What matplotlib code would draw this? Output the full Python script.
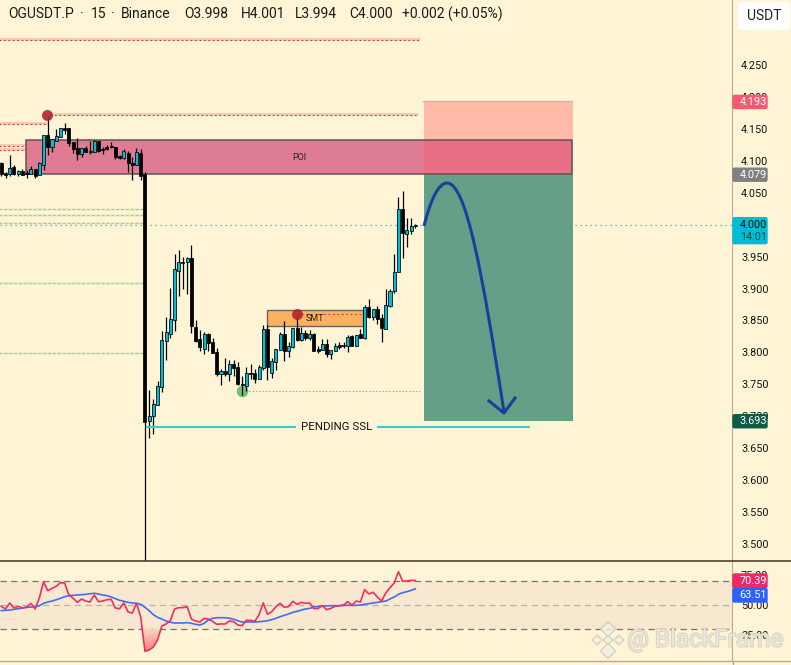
#!/usr/bin/env python3
# OGUSDT.P 15m chart with position tool and RSI pane
import matplotlib
matplotlib.use("Agg")
import matplotlib.pyplot as plt
import matplotlib.patheffects as pe
import numpy as np
from matplotlib.colors import LinearSegmentedColormap
from matplotlib.patches import Rectangle, FancyBboxPatch, PathPatch
from matplotlib.path import Path

plt.rcParams['font.family'] = ['Roboto', 'DejaVu Sans']

opens = [4.097,4.081,4.079,4.090,4.079,4.084,4.081,4.079,4.087,4.078,
         4.093,4.140,4.122,4.131,4.137,4.151,4.151,4.129,4.120,4.111,
         4.120,4.115,4.114,4.131,4.118,4.122,4.123,4.122,4.108,4.104,
         4.112,4.097,4.093,4.112,4.079,3.693,3.700,3.718,3.746,3.818,
         3.829,3.851,3.927,3.940,3.942,3.948,3.840,3.821,3.805,3.829,
         3.816,3.801,3.766,3.771,3.766,3.782,3.777,3.751,3.747,3.768,
         3.768,3.758,3.776,3.837,3.768,3.785,3.804,3.829,3.802,3.808,
         3.838,3.819,3.830,3.823,3.829,3.805,3.804,3.813,3.797,3.802,
         3.812,3.812,3.810,3.826,3.810,3.829,3.823,3.871,3.855,3.868,
         3.854,3.837,3.873,3.896,3.926,4.025,3.985,3.990,3.998]
highs = [4.098,4.083,4.109,4.093,4.086,4.087,4.086,4.092,4.087,4.098,
         4.140,4.170,4.134,4.150,4.151,4.159,4.151,4.129,4.136,4.120,
         4.123,4.131,4.133,4.131,4.122,4.125,4.129,4.122,4.109,4.118,
         4.115,4.106,4.120,4.118,4.082,3.741,3.727,3.755,3.833,3.855,
         3.901,3.954,3.960,3.949,3.949,3.968,3.851,3.835,3.832,3.830,
         3.823,3.807,3.774,3.791,3.788,3.788,3.785,3.763,3.777,3.782,
         3.774,3.780,3.843,3.843,3.791,3.805,3.832,3.849,3.816,3.838,
         3.859,3.840,3.835,3.835,3.830,3.810,3.821,3.821,3.804,3.815,
         3.816,3.816,3.827,3.827,3.827,3.837,3.874,3.884,3.868,3.873,
         3.860,3.899,3.899,3.954,4.043,4.053,4.010,4.010,4.001]
lows = [4.076,4.073,4.076,4.078,4.076,4.078,4.073,4.079,4.073,4.078,
        4.086,4.109,4.114,4.131,4.137,4.142,4.123,4.112,4.101,4.106,
        4.114,4.111,4.114,4.114,4.111,4.117,4.120,4.103,4.103,4.103,
        4.082,4.070,4.093,4.070,3.460,3.666,3.672,3.718,3.738,3.788,
        3.823,3.833,3.888,3.899,3.891,3.830,3.816,3.802,3.797,3.802,
        3.799,3.763,3.749,3.763,3.755,3.763,3.749,3.733,3.740,3.758,
        3.752,3.758,3.772,3.757,3.760,3.772,3.804,3.787,3.793,3.807,
        3.818,3.818,3.819,3.819,3.802,3.799,3.804,3.793,3.790,3.802,
        3.805,3.807,3.801,3.810,3.810,3.823,3.821,3.854,3.851,3.844,
        3.816,3.837,3.871,3.893,3.926,3.948,3.965,3.985,3.994]
closes = [4.079,4.078,4.089,4.079,4.084,4.078,4.079,4.087,4.076,4.097,
          4.140,4.122,4.134,4.139,4.151,4.148,4.128,4.118,4.111,4.120,
          4.114,4.114,4.131,4.115,4.117,4.118,4.122,4.106,4.104,4.115,
          4.097,4.093,4.114,4.076,3.691,3.700,3.719,3.747,3.819,3.832,
          3.852,3.931,3.942,3.942,3.948,3.841,3.818,3.808,3.829,3.815,
          3.799,3.766,3.771,3.766,3.782,3.776,3.751,3.749,3.768,3.766,
          3.758,3.777,3.837,3.777,3.787,3.805,3.829,3.802,3.810,3.838,
          3.819,3.830,3.823,3.829,3.802,3.802,3.813,3.797,3.804,3.810,
          3.808,3.810,3.824,3.810,3.827,3.823,3.871,3.855,3.868,3.852,
          3.838,3.874,3.896,3.926,4.025,3.987,3.992,3.998,4.000]

rsi = [48.9,46.7,51.7,47.5,48.9,47.5,48.1,51.4,46.7,55.8,
       69.4,61.9,63.9,65.6,68.6,68.3,58.3,55.6,52.2,55.0,
       53.3,52.5,58.3,52.8,53.3,54.4,54.7,47.5,46.9,51.7,
       44.2,43.3,51.4,40.0,11.4,12.5,15.0,21.1,32.5,34.2,
       36.9,46.7,47.8,47.8,48.6,38.3,36.7,35.8,38.9,38.3,
       36.4,33.9,34.2,34.2,36.7,36.1,33.3,32.8,37.2,37.2,
       36.4,41.9,51.7,42.2,44.4,48.6,51.4,48.1,48.6,53.1,
       50.6,52.2,51.4,51.7,46.9,47.2,49.4,46.1,47.2,48.9,
       49.4,50.0,52.8,49.7,53.3,52.5,62.8,59.2,60.6,56.7,
       53.3,60.0,64.4,68.3,77.8,69.7,70.0,70.6,70.4]
rsi_ma = [45.3,45.6,45.8,46.4,46.9,47.5,48.1,48.3,48.3,49.4,
          51.4,52.5,53.3,54.4,55.6,56.9,57.8,58.1,58.3,58.6,
          58.9,59.4,59.7,59.2,58.3,57.8,56.7,55.3,53.9,53.1,
          52.2,51.7,51.4,50.6,48.1,45.3,41.9,39.7,38.3,36.7,
          35.6,35.0,35.0,35.0,35.3,34.7,33.9,33.3,34.7,37.5,
          38.9,39.4,39.4,39.4,38.9,38.1,36.9,35.8,35.8,35.8,
          35.8,36.1,36.4,36.9,37.8,38.9,40.3,41.4,42.5,43.9,
          44.7,45.8,46.7,47.2,48.3,48.9,49.2,49.2,49.4,49.4,
          49.4,49.7,49.7,49.7,49.7,50.0,50.6,51.1,51.7,52.2,
          52.8,53.3,55.0,56.7,58.9,60.3,61.1,62.2,63.5]

price_ticks = [4.25,4.20,4.15,4.10,4.05,4.00,3.95,3.90,3.85,3.80,3.75,3.70,3.65,3.60,3.55,3.50]
rsi_ticks = [75,50,25]
red_levels = [4.289,4.172,4.158,4.123,4.117]
green_levels = [4.025,4.015,4.002,3.909,3.799]
entry, stop, target, last = 4.079, 4.193, 3.693, 4.000
poi_top = 4.132
smt_top, smt_bot = 3.866, 3.842
smt_level, swing_low, ssl_level = 3.860, 3.740, 3.683

BG = "#fff5d6"
UP = "#00bcd4"
W, H = 791, 665
BAR0, BAR_W = 1.3, 4.225      # px of first bar, px per bar
AX_R, SPLIT, BOT = 732, 561, 661


def bx(p):
    # pixel column -> bar number
    return (p - BAR0) / BAR_W


def py(v):
    # price -> pixel row, for the overlay
    return 65 + (4.25 - v) * 638.67


fig = plt.figure(figsize=(W / 100, H / 100), dpi=100, facecolor=BG)
ax = fig.add_axes([0, 1 - SPLIT / H, AX_R / W, SPLIT / H], facecolor=BG)
ax2 = fig.add_axes([0, 1 - BOT / H, AX_R / W, (BOT - SPLIT) / H], facecolor=BG)
ov = fig.add_axes([0, 0, 1, 1], facecolor="none")
ov.set_xlim(0, W)
ov.set_ylim(H, 0)
ov.axis("off")
ov.set_zorder(5)

ax.set_xlim(bx(0), bx(AX_R))
ax.set_ylim(4.25 - (SPLIT - 65) / 638.67, 4.25 + 65 / 638.67)

# horizontal levels: soft halo with a dotted line on it
spans = [(-1, bx(420)), (bx(50), bx(418)), (-1, bx(48)), (-1, bx(40)), (-1, bx(40))]
for lev, (a, b) in zip(red_levels, spans):
    ax.plot([a, b], [lev + 0.0012] * 2, color="#f3cdb0", lw=2.2, zorder=1, solid_capstyle="butt")
    ax.plot([a, b], [lev] * 2, color="#c8303f", lw=0.8, ls=(0, (1.5, 2.5)), zorder=1.1)
for lev in green_levels:
    ax.plot([-1, bx(145)], [lev] * 2, color="#e6edc4", lw=1.8, zorder=1, solid_capstyle="butt")
    ax.plot([-1, bx(145)], [lev] * 2, color="#9bcf98", lw=0.7, ls=(0, (3, 2)), zorder=1.1)
ax.plot([bx(242), bx(420)], [swing_low] * 2, color="#86c58a", lw=0.8, ls=(0, (1.5, 1.5)), zorder=1.1)
ax.plot([bx(0), bx(AX_R)], [last] * 2, color=UP, lw=0.9, ls=(0, (1, 3)), zorder=1.2)

# position tool and the POI zone
ax.add_patch(Rectangle((bx(424), entry), bx(572.5) - bx(424), stop - entry, fc="#ffbaa8", ec="none", zorder=2))
ax.plot([bx(423), bx(572)], [stop] * 2, color="#f5a392", lw=0.9, zorder=2.1)
ax.add_patch(Rectangle((bx(424), target), bx(572.5) - bx(424), entry - target, fc="#659f87", ec="none", zorder=2))
ax.add_patch(Rectangle((bx(26), entry), bx(424) - bx(26), poi_top - entry, fc="#df7c93", ec="none", zorder=2.2))
ax.add_patch(Rectangle((bx(424), entry), bx(572) - bx(424), poi_top - entry, fc="#e86e84", ec="none", zorder=2.2))
ax.add_patch(Rectangle((bx(26), entry), bx(572) - bx(26), poi_top - entry, fc="none", ec="#5c5552", lw=1.1, zorder=2.3))
ax.add_patch(Rectangle((bx(267), smt_bot), bx(363.5) - bx(267), smt_top - smt_bot,
                       fc="#fbb15f", ec="#6b6558", lw=1.0, zorder=2.2))
ax.plot([bx(297), bx(363)], [smt_level] * 2, color="#c8303f", lw=0.8, ls=(0, (1.5, 2.5)), zorder=2.4)

# candles
for i in range(len(opens)):
    o, h, l, c = opens[i], highs[i], lows[i], closes[i]
    up = c > o
    ax.vlines(i, l, h, color="black", lw=0.9, zorder=3)
    ax.bar(i, abs(c - o), bottom=min(o, c), width=0.72, color=UP if up else "black",
           edgecolor="black", linewidth=0.55, zorder=3.1)

# pending ssl line, broken around its label
ax.plot([bx(146), bx(296)], [ssl_level] * 2, color="#3ecbd0", lw=1.5, zorder=3.5, solid_capstyle="butt")
ax.plot([bx(377), bx(530)], [ssl_level] * 2, color="#3ecbd0", lw=1.5, zorder=3.5, solid_capstyle="butt")

ax.scatter([bx(47), bx(297)], [4.172, 3.860], s=62, color="#b5202f", alpha=0.9, lw=0, zorder=4)
ax.scatter([bx(242)], [swing_low], s=70, color="#6fc27a", lw=0, zorder=2.9)

ax.set_xticks([])
ax.set_yticks(price_ticks)
ax.set_yticklabels(["%.3f" % t for t in price_ticks])
ax.yaxis.tick_right()
ax.tick_params(axis="y", length=0, pad=6.5, labelsize=7.8, labelcolor="#131313")
for s in ["top", "left", "bottom"]:
    ax.spines[s].set_visible(False)
ax.spines["right"].set_color("#b5ae96")

# RSI pane
rsi_lims = (70 - (BOT - 581) / 1.2, 70 + 20 / 1.2)
ax2.axhspan(30, 70, color="#f8e8d0", lw=0, zorder=0)
for lev, col in [(70, "#77736a"), (30, "#77736a"), (50, "#b8b2a4")]:
    ax2.axhline(lev, color=col, lw=0.9, ls=(0, (5, 3.5)), zorder=1)
xs = list(range(len(rsi)))
# oversold fill fades from the 30 line down to the low
below = ax2.fill_between(xs, rsi, 30, where=[v < 30 for v in rsi], interpolate=True, color="none", lw=0)
fade = LinearSegmentedColormap.from_list("fade", ["#f57f85", "#fbd9c0"])
img = ax2.imshow(np.linspace(0, 1, 64).reshape(-1, 1), cmap=fade, origin="lower", aspect="auto",
                 extent=(33, 39, min(rsi), 30), zorder=1.5)
img.set_clip_path(below.get_paths()[0], transform=ax2.transData)
ax2.plot(xs, rsi_ma, color="#3f6ff0", lw=1.2, zorder=2)
ax2.plot(xs, rsi, color="#ef2f60", lw=1.2, zorder=3)
ax2.set_xlim(bx(0), bx(AX_R))
ax2.set_ylim(*rsi_lims)
ax2.set_xticks([])
ax2.set_yticks(rsi_ticks)
ax2.set_yticklabels(["%.2f" % t for t in rsi_ticks])
ax2.yaxis.tick_right()
ax2.tick_params(axis="y", length=0, pad=6.5, labelsize=7.8, labelcolor="#131313")
for s in ["left", "bottom", "top"]:
    ax2.spines[s].set_visible(False)
ax2.spines["right"].set_color("#b5ae96")

# frame lines over both panes
ov.plot([0, W], [SPLIT, SPLIT], color="#3b3623", lw=1.1)
ov.plot([0, W], [BOT, BOT], color="#b5ae96", lw=1.0)
ov.plot([AX_R + .5, AX_R + .5], [BOT, H], color="#b5ae96", lw=1.0)

# header text
header = [(8, "OGUSDT.P"), (80, "·"), (91, "15"), (111, "·"), (121, "Binance"),
          (184, "O3.998"), (241, "H4.001"), (295, "L3.994"), (349, "C4.000"),
          (402, "+0.002 (+0.05%)")]
for hx, txt in header:
    ov.text(hx, 14.5, txt, fontsize=10, color="#1a1a1a", va="center")

ov.text(299, 158, "POI", fontsize=6.5, color="#222222", ha="center", va="center")
ov.text(315, 318.5, "SMT", fontsize=6.5, color="#222222", ha="center", va="center")
ov.text(336.5, 427, "PENDING SSL", fontsize=8.2, color="#111111", ha="center", va="center")

# hand drawn arrow on the position tool
curve = Path([(424, 226), (431, 198), (439, 183), (447, 183), (466, 183), (482, 270), (504, 412)],
             [Path.MOVETO, Path.CURVE4, Path.CURVE4, Path.CURVE4, Path.CURVE4, Path.CURVE4, Path.CURVE4])
ov.add_patch(PathPatch(curve, fc="none", ec="#1b3f9c", lw=2.2))
ov.plot([489, 504, 515], [401, 413, 398], color="#1b3f9c", lw=2.2)

# price tags on the right scale
tags = [(stop, "#f55a72", "#ffffff"), (entry, "#808080", "#ffffff"), (target, "#0d5c4a", "#ffffff")]
for val, bg, fg in tags:
    y = py(val)
    ov.add_patch(FancyBboxPatch((733, y - 6), 34, 13, boxstyle="round,pad=0,rounding_size=1.5", fc=bg, ec=bg, lw=1))
    ov.text(753.5, y + 0.5, "%.3f" % val, fontsize=7.8, color=fg, ha="center", va="center")
y = py(last)
ov.add_patch(FancyBboxPatch((733, y - 7), 34, 26, boxstyle="round,pad=0,rounding_size=1.5", fc="#00bcd4", ec="#00bcd4", lw=1))
ov.text(753.5, y + 0.5, "%.3f" % last, fontsize=7.8, color="#111111", ha="center", va="center")
ov.text(753.5, y + 12.5, "14:01", fontsize=7.8, color="#0b4a52", ha="center", va="center")
ov.add_patch(FancyBboxPatch((733, 574), 34, 13.5, boxstyle="round,pad=0,rounding_size=1.5", fc="#ef2766", ec="#ef2766", lw=1))
ov.text(753.5, 581, "70.39", fontsize=7.8, color="#ffffff", ha="center", va="center")
ov.add_patch(FancyBboxPatch((733, 588.5), 34, 13.5, boxstyle="round,pad=0,rounding_size=1.5", fc="#2962ff", ec="#2962ff", lw=1))
ov.text(753.5, 595.5, "63.51", fontsize=7.8, color="#ffffff", ha="center", va="center")

ov.add_patch(FancyBboxPatch((738, 2), 52, 28, boxstyle="round,pad=0,rounding_size=4", fc="#ffffff", ec="none"))
ov.text(764, 15.5, "USDT", fontsize=10, color="#222222", ha="center", va="center")

# watermark
shadow = [pe.withStroke(linewidth=1.4, foreground="#c9c5b8", alpha=0.7)]
ov.text(627, 640, "@ BlackFrame", fontsize=17.5, color="#f1eee2", alpha=0.75, va="center", path_effects=shadow)
ov.scatter([608, 597, 619, 608, 608], [640, 640, 640, 629, 651], s=[26, 26, 26, 60, 60], marker="D",
           color="#f1eee2", edgecolors="#c9c5b8", linewidths=0.8, alpha=0.85)

fig.savefig("out.png", dpi=100, facecolor=BG)
